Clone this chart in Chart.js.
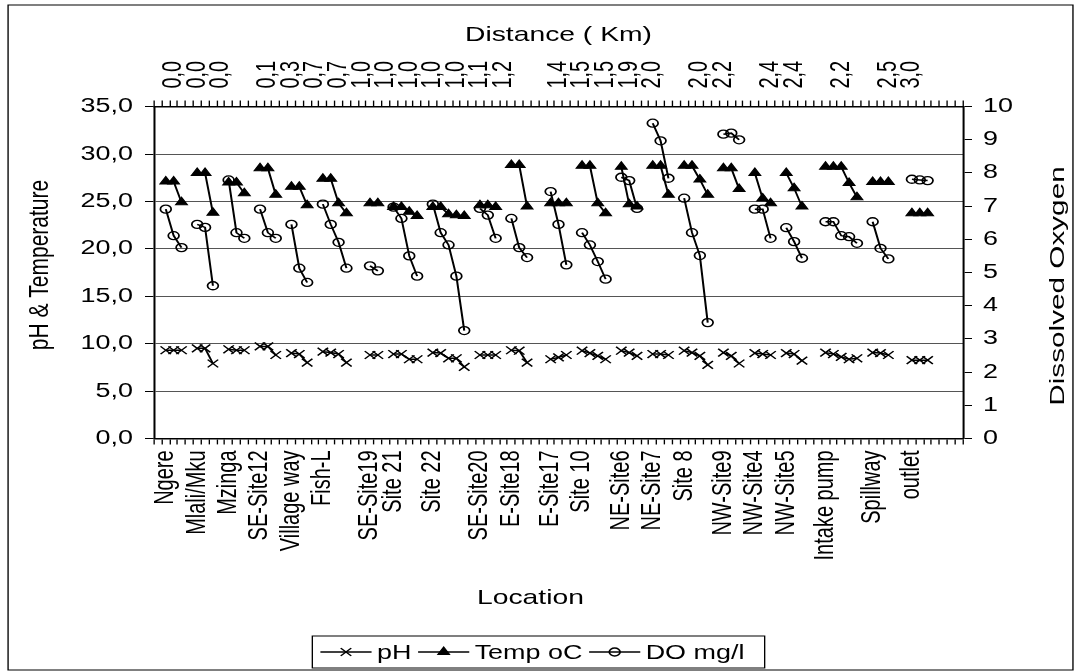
<!DOCTYPE html>
<html><head><meta charset="utf-8">
<script src="https://cdn.jsdelivr.net/npm/chart.js@4.4.1/dist/chart.umd.min.js"></script>
<style>html,body{margin:0;padding:0;background:#fff;overflow:hidden}canvas{position:absolute;left:0;top:0}</style>
</head><body>
<canvas id="c" width="800" height="672"></canvas>
<script>
// ---------------- data ----------------
const siteNames = ['Ngere','Mlali/Mku','Mzinga','SE-Site12','Village way','Fish-L','SE-Site19','Site 21','Site 22','SE-Site20','E-Site18','E-Site17','Site 10','NE-Site6','NE-Site7','Site 8','NW-Site9','NW-Site4','NW-Site5','Intake pump','Spillway','outlet'];
const blankRowsBefore = [1,1,1,1,1,1,2,1,1,1,1,2,1,1,1,1,1,1,1,2,1,2];
const blankRowsAfter = 4;
const phValues = [[9.3,9.3,9.3],[9.5,9.5,7.9],[9.4,9.3,9.3],[9.7,9.7,8.8],[9.0,8.9,8.0],[9.15,9.05,8.9,8.0],[8.8,8.8],[8.9,8.9,8.35,8.35],[9.05,9.0,8.45,8.45,7.55],[8.8,8.8,8.8],[9.3,9.25,8.0],[8.35,8.55,8.8],[9.25,9.0,8.7,8.35],[9.25,9.05,8.7],[8.9,8.9,8.8],[9.25,9.05,8.7,7.75],[9.05,8.7,7.9],[9.0,8.9,8.8],[9.0,8.9,8.2],[9.05,8.9,8.6,8.35,8.45],[9.05,9.0,8.8],[8.25,8.25,8.25]];
const tempValues = [[27.1,27.1,24.9],[28.0,28.0,23.8],[27.0,27.0,25.85],[28.5,28.5,25.7],[26.55,26.55,24.6],[27.4,27.4,24.8,23.75],[24.8,24.8],[24.4,24.4,23.9,23.45],[24.4,24.4,23.65,23.55,23.45],[24.6,24.6,24.4],[28.85,28.85,24.45],[24.8,24.8,24.8],[28.75,28.75,24.8,23.75],[28.65,24.7,24.45],[28.75,28.75,25.7],[28.75,28.75,27.3,25.7],[28.5,28.5,26.3],[28.0,25.3,24.8],[28.0,26.4,24.45],[28.65,28.65,28.65,26.95,25.45],[27.05,27.05,27.05],[23.75,23.75,23.75]];
const doValues = [[6.91,6.11,5.75],[6.45,6.36,4.6],[7.79,6.2,6.03],[6.91,6.2,6.03],[6.45,5.13,4.7],[7.06,6.45,5.91,5.13],[5.2,5.05],[6.97,6.63,5.5,4.89],[7.06,6.2,5.83,4.89,3.25],[6.93,6.73,6.03],[6.63,5.75,5.45],[7.44,6.45,5.23],[6.2,5.83,5.33,4.8],[7.87,7.77,6.93],[9.5,8.97,7.84],[7.24,6.2,5.51,3.49],[9.17,9.2,9.0],[6.91,6.91,6.03],[6.35,5.93,5.43],[6.53,6.53,6.11,6.08,5.88],[6.53,5.73,5.41],[7.81,7.79,7.77]];
// distance (Km) labels of the secondary category axis, by spreadsheet row
const distanceLabels = {2:'0,0',5:'0,0',8:'0,0',14:'0,1',17:'0,3',20:'0,7',23:'0,7',26:'1,0',29:'1,0',32:'1,0',35:'1,0',38:'1,0',41:'1,1',44:'1,2',51:'1,4',54:'1,5',57:'1,5',60:'1,9',63:'2,0',69:'2,0',72:'2,2',78:'2,4',81:'2,4',87:'2,2',93:'2,5',96:'3,0'};
const leftTicks = {min:0, max:35, step:5};
const rightTicks = {min:0, max:10, step:1};
const titles = {top: 'Distance ( Km)', bottom: 'Location', left: 'pH & Temperature', right: 'Dissolved Oxygen'};

// ---------------- rows ----------------
const locationLabels = [], phRow = [], tempRow = [], doRow = [];
siteNames.forEach((name, s) => {
  for (let b = 0; b < blankRowsBefore[s]; b++) { locationLabels.push(''); phRow.push(null); tempRow.push(null); doRow.push(null); }
  phValues[s].forEach((v, k) => {
    locationLabels.push(k === 0 ? name : '');
    phRow.push(v); tempRow.push(tempValues[s][k]); doRow.push(doValues[s][k]);
  });
});
for (let b = 0; b < blankRowsAfter; b++) { locationLabels.push(''); phRow.push(null); tempRow.push(null); doRow.push(null); }
const topLabels = locationLabels.map((_, i) => distanceLabels[i] || '');

// ---------------- style ----------------
const FONT = 'Liberation Sans';
const SX = 1077 / 800;
const black = '#000';

function rotatedText(ctx, text, x, y, size, stretch) {
  ctx.save();
  ctx.translate(x, y);
  ctx.rotate(-Math.PI / 2);
  ctx.scale(stretch, 1);
  ctx.font = size + 'px "' + FONT + '"';
  ctx.fillStyle = black; ctx.textAlign = 'center'; ctx.textBaseline = 'middle';
  ctx.fillText(text, 0, 0);
  ctx.restore();
}

const decor = {
  id: 'decor',
  afterDraw(chart) {
    const ctx = chart.ctx;
    ctx.save();
    ctx.strokeStyle = black; ctx.lineWidth = 1;
    ctx.strokeRect(6, 5, 791, 665);
    // axis titles
    rotatedText(ctx, titles.left, 29.7, 265, 21, 1);
    rotatedText(ctx, titles.right, 786, 286, 15, 1.98);
    ctx.font = '21px "' + FONT + '"'; ctx.fillStyle = black; ctx.textAlign = 'center'; ctx.textBaseline = 'middle';
    ctx.fillText(titles.bottom, 394, 598);
    // legend
    const bx = 232, by = 636, bw = 336, bh = 32;
    ctx.fillStyle = '#fff'; ctx.fillRect(bx, by, bw, bh);
    ctx.strokeStyle = black; ctx.lineWidth = 1; ctx.strokeRect(bx, by, bw, bh);
    ctx.font = '20px "' + FONT + '"'; ctx.textBaseline = 'middle'; ctx.textAlign = 'left';
    let x = bx + 6; const cy = by + bh / 2;
    chart.data.datasets.forEach(ds => {
      ctx.strokeStyle = black; ctx.lineWidth = ds.borderWidth;
      ctx.beginPath(); ctx.moveTo(x, cy); ctx.lineTo(x + 38, cy); ctx.stroke();
      ctx.fillStyle = ds.pointBackgroundColor; ctx.strokeStyle = black; ctx.lineWidth = ds.pointBorderWidth;
      Chart.helpers.drawPoint(ctx, {pointStyle: ds.pointStyle, radius: ds.pointRadius, borderWidth: ds.pointBorderWidth, rotation: 0}, x + 19, cy);
      ctx.fillStyle = black;
      ctx.fillText(ds.label, x + 42, cy + 1);
      x += 42 + ctx.measureText(ds.label).width + 5;
    });
    ctx.restore();
  }
};

const axisFont = {family: FONT, size: 20};
const titleFont = {family: FONT, size: 21};

const chart = new Chart(document.getElementById('c'), {
  type: 'line',
  data: {
    labels: locationLabels,
    datasets: [
      {label: 'pH', data: phRow, yAxisID: 'y', borderColor: black, borderWidth: 1.5, pointStyle: 'crossRot', pointRadius: 5.5, pointBorderWidth: 1.3, pointBorderColor: black, pointBackgroundColor: 'rgba(0,0,0,0)', spanGaps: false, tension: 0},
      {label: 'Temp oC', data: tempRow, yAxisID: 'y', borderColor: black, borderWidth: 1.5, pointStyle: 'triangle', pointRadius: 5, pointBorderWidth: 1, pointBorderColor: black, pointBackgroundColor: black, spanGaps: false, tension: 0},
      {label: 'DO mg/l', data: doRow, yAxisID: 'y2', borderColor: black, borderWidth: 1.5, pointStyle: 'circle', pointRadius: 4, pointBorderWidth: 1.3, pointBorderColor: black, pointBackgroundColor: 'rgba(0,0,0,0)', spanGaps: false, tension: 0}
    ]
  },
  options: {
    responsive: false, animation: false, devicePixelRatio: 1,
    layout: {padding: {left: 6, right: 0, top: 8, bottom: 63.6}},
    plugins: {legend: {display: false}, tooltip: {enabled: false}},
    scales: {
      x: {
        type: 'category', position: 'bottom', offset: true, labels: locationLabels,
        grid: {offset: true, drawOnChartArea: false, drawTicks: true, tickLength: 6, color: black, lineWidth: 1},
        border: {color: black, width: 1.5},
        ticks: {autoSkip: false, maxRotation: 90, minRotation: 90, padding: 6, font: axisFont, color: black},
        afterFit: s => { s.height = 170; }
      },
      x2: {
        type: 'category', position: 'top', offset: true, labels: topLabels,
        grid: {offset: true, drawOnChartArea: false, drawTicks: true, tickLength: 6, color: black, lineWidth: 1},
        border: {color: black, width: 1.5},
        ticks: {autoSkip: false, maxRotation: 90, minRotation: 90, padding: 12, labelOffset: 24, font: axisFont, color: black},
        title: {display: true, text: titles.top, font: titleFont, color: black, padding: {top: 14.4, bottom: 0}},
        afterFit: s => { s.height = 98.6; }
      },
      y: {
        position: 'left', min: leftTicks.min, max: leftTicks.max,
        ticks: {stepSize: leftTicks.step, padding: 8.9, font: axisFont, color: black, callback: v => v.toFixed(1).replace('.', ',')},
        grid: {color: '#555', lineWidth: 1, drawTicks: true, tickLength: 6.7, tickColor: black},
        border: {color: black, width: 1.5},
        afterFit: s => { s.width = 108.4; }
      },
      y2: {
        position: 'right', min: rightTicks.min, max: rightTicks.max,
        ticks: {stepSize: rightTicks.step, padding: 8.2, font: axisFont, color: black},
        grid: {drawOnChartArea: false, drawTicks: true, tickLength: 6.7, color: black},
        border: {color: black, width: 1.5},
        afterFit: s => { s.width = 84.7; }
      }
    }
  },
  plugins: [decor]
});

// the reference picture is stretched horizontally: redraw the chart onto a wider bitmap
const cv = chart.canvas;
cv.width = 1077; cv.height = 672;
cv.style.width = '1077px'; cv.style.height = '672px';
chart.ctx.setTransform(SX, 0, 0, 1, 0, 0);
chart.draw();
</script>
</body></html>
